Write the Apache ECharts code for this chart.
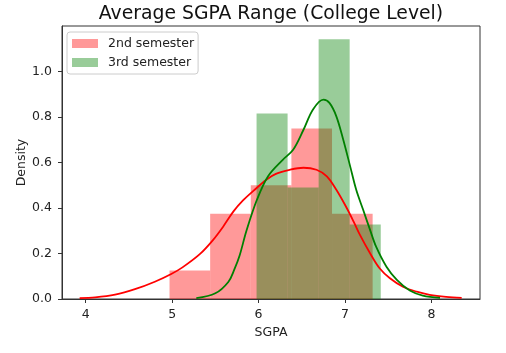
<!DOCTYPE html>
<html>
<head>
<meta charset="utf-8">
<script src="https://cdn.jsdelivr.net/npm/echarts@6/dist/echarts.min.js"></script>
<style>html,body{margin:0;padding:0;background:#fff;}#c{width:506px;height:353px;}</style>
</head>
<body>
<div id="c"></div>
<script>
// ---- data ----
const seriesNames = ['2nd semester', '3rd semester'];
const xTicks = [4, 5, 6, 7, 8];
const yTicks = [0.0, 0.2, 0.4, 0.6, 0.8, 1.0];

const sem2Edges = [4.97, 5.44, 5.91, 6.38, 6.85, 7.32];
const sem2Density = [0.125, 0.375, 0.5, 0.75, 0.375];

const sem3Edges = [5.977, 6.336, 6.695, 7.054, 7.414];
const sem3Density = [0.815, 0.49, 1.142, 0.327];

const sem2Kde = [[3.93,0.004],[4.11,0.007],[4.34,0.019],[4.57,0.043],[4.80,0.076],[4.99,0.110],
  [5.12,0.139],[5.32,0.197],[5.47,0.258],[5.59,0.318],[5.71,0.385],[5.82,0.433],[5.94,0.475],
  [6.09,0.524],[6.20,0.550],[6.36,0.568],[6.52,0.577],[6.67,0.568],[6.79,0.539],[6.90,0.480],
  [7.02,0.400],[7.10,0.340],[7.17,0.284],[7.29,0.201],[7.40,0.135],[7.52,0.091],[7.67,0.054],
  [7.83,0.032],[7.98,0.018],[8.17,0.009],[8.35,0.005]];

const sem3Kde = [[5.28,0.004],[5.50,0.025],[5.65,0.075],[5.72,0.13],[5.78,0.19],[5.86,0.30],
  [5.98,0.435],[6.11,0.540],[6.28,0.612],[6.40,0.656],[6.52,0.744],[6.63,0.833],[6.75,0.876],
  [6.82,0.862],[6.90,0.803],[6.98,0.70],[7.06,0.583],[7.13,0.48],[7.21,0.392],[7.29,0.304],
  [7.36,0.23],[7.48,0.142],[7.60,0.084],[7.75,0.037],[7.90,0.015],[8.10,0.005]];

const xMin = 3.726, xMax = 8.562, yMin = 0, yMax = 1.2;
// --------------------------------------

function bins(edges, heights) {
  const out = [];
  for (let i = 0; i < heights.length; i++) out.push([edges[i], edges[i + 1], heights[i]]);
  return out;
}
function renderBin(params, api) {
  const p0 = api.coord([api.value(0), api.value(2)]);
  const p1 = api.coord([api.value(1), 0]);
  return {
    type: 'rect',
    shape: { x: p0[0], y: p0[1], width: p1[0] - p0[0], height: p1[1] - p0[1] },
    style: { fill: api.visual('color') }
  };
}

const FONT = 'DejaVu Sans';
const FS = 12.5;
const chart = echarts.init(document.getElementById('c'), null, { renderer: 'canvas' });
chart.setOption({
  animation: false,
  textStyle: { fontFamily: FONT },
  title: {
    text: 'Average SGPA Range (College Level)',
    left: 271, top: 5, textAlign: 'center', padding: 0,
    textStyle: { fontFamily: FONT, fontSize: 18.8, fontWeight: 'normal', color: '#111' }
  },
  grid: {
    left: 62, right: 26, top: 26, bottom: 54,
    show: true, borderColor: '#333', borderWidth: 1, backgroundColor: 'transparent'
  },
  legend: {
    orient: 'vertical', left: 67, top: 32,
    data: seriesNames,
    icon: 'rect', itemWidth: 26, itemHeight: 9, itemGap: 6,
    padding: [5, 4, 5, 5],
    backgroundColor: 'rgba(255,255,255,0.8)', borderColor: '#ccc', borderWidth: 1, borderRadius: 3,
    formatter: n => '{g| }' + n,
    textStyle: { fontFamily: FONT, fontSize: FS, color: '#222',
      rich: { g: { width: 5, fontSize: FS, fontFamily: FONT } } }
  },
  xAxis: {
    type: 'value', min: xMin, max: xMax,
    name: 'SGPA', nameLocation: 'middle', nameGap: 27, nameMoveOverlap: false,
    nameTextStyle: { fontFamily: FONT, fontSize: FS, color: '#222' },
    axisLine: { show: true, lineStyle: { color: '#333', width: 1 } },
    axisTick: { show: true, length: 4, lineStyle: { color: '#333' }, customValues: xTicks },
    axisLabel: { fontFamily: FONT, fontSize: FS, color: '#222', margin: 9, customValues: xTicks,
      formatter: v => String(v) },
    splitLine: { show: false }
  },
  yAxis: {
    type: 'value', min: yMin, max: yMax,
    name: 'Density', nameLocation: 'middle', nameGap: 34, nameRotate: 90, nameMoveOverlap: false,
    nameTextStyle: { fontFamily: FONT, fontSize: FS, color: '#222' },
    axisLine: { show: true, lineStyle: { color: '#333', width: 1 } },
    axisTick: { show: true, length: 4, lineStyle: { color: '#333' }, customValues: yTicks },
    axisLabel: { fontFamily: FONT, fontSize: FS, color: '#222', margin: 10, customValues: yTicks,
      formatter: v => v.toFixed(1) },
    splitLine: { show: false }
  },
  series: [
    {
      name: seriesNames[0], type: 'custom', renderItem: renderBin,
      itemStyle: { color: 'rgba(255,0,0,0.4)' },
      encode: { x: [0, 1], y: 2 }, data: bins(sem2Edges, sem2Density), z: 1
    },
    {
      name: seriesNames[1], type: 'custom', renderItem: renderBin,
      itemStyle: { color: 'rgba(0,128,0,0.4)' },
      encode: { x: [0, 1], y: 2 }, data: bins(sem3Edges, sem3Density), z: 1
    },
    {
      name: '2nd semester KDE', type: 'line', data: sem2Kde, smooth: 0.35,
      showSymbol: false,
      lineStyle: { color: '#ff0000', width: 1.8 }, itemStyle: { color: '#ff0000' }, z: 3
    },
    {
      name: '3rd semester KDE', type: 'line', data: sem3Kde, smooth: 0.35,
      showSymbol: false,
      lineStyle: { color: '#008000', width: 1.8 }, itemStyle: { color: '#008000' }, z: 4
    }
  ]
});
</script>
</body>
</html>
